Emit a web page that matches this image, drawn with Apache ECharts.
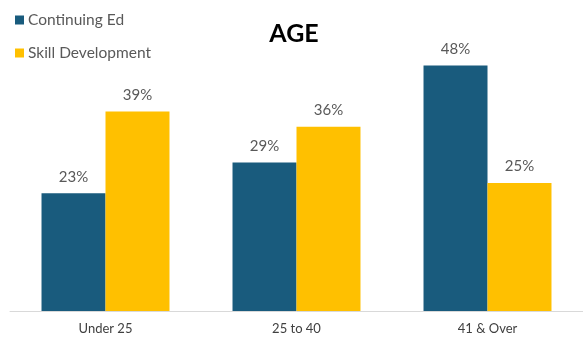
<!DOCTYPE html>
<html>
<head>
<meta charset="utf-8">
<script src="https://cdn.jsdelivr.net/npm/echarts@6/dist/echarts.min.js"></script>
<style>
  html, body { margin: 0; padding: 0; background: #ffffff; }
  #chart { width: 583px; height: 343px; }
</style>
</head>
<body>
<div id="chart"></div>
<script>
// Age groups and the share of each program type
const categories = ['Under 25', '25 to 40', '41 & Over'];
const continuingEd = [23, 29, 48];
const skillDevelopment = [39, 36, 25];
const seriesNames = ['Continuing Ed', 'Skill Development'];

const FONT = 'Lato, "Open Sans", sans-serif';
const labelStyle = {
  show: true,
  position: 'top',
  distance: 9,
  formatter: '{c}%',
  color: '#595959',
  fontSize: 15,
  fontFamily: FONT
};

const chart = echarts.init(document.getElementById('chart'), null, { renderer: 'canvas' });
chart.setOption({
  animation: false,
  backgroundColor: '#ffffff',
  title: {
    text: 'AGE',
    left: 289,
    textAlign: 'center',
    top: 16,
    textStyle: { fontFamily: FONT, fontWeight: 'bold', fontSize: 25, color: '#000000' }
  },
  legend: {
    orient: 'vertical',
    left: 10,
    top: 7,
    itemWidth: 9,
    itemHeight: 9,
    itemGap: 17,
    icon: 'rect',
    textStyle: { fontFamily: FONT, fontSize: 15.5, color: '#595959', padding: [0, 0, 0, -1] },
    data: seriesNames
  },
  grid: { left: 10, width: 582, top: 4, bottom: 32, containLabel: false },
  xAxis: {
    type: 'category',
    data: categories,
    axisLine: { lineStyle: { color: '#d9d9d9', width: 1 } },
    axisTick: { show: false },
    axisLabel: { color: '#404040', fontSize: 13, fontFamily: FONT, margin: 11 }
  },
  yAxis: {
    type: 'value',
    min: 0,
    max: 60,
    show: false,
    splitLine: { show: false }
  },
  series: [
    {
      name: seriesNames[0],
      type: 'bar',
      data: continuingEd,
      barGap: '0%',
      barCategoryGap: '33%',
      itemStyle: { color: '#195b7d' },
      label: labelStyle
    },
    {
      name: seriesNames[1],
      type: 'bar',
      data: skillDevelopment,
      barGap: '0%',
      barCategoryGap: '33%',
      itemStyle: { color: '#ffc000' },
      label: labelStyle
    }
  ]
});
</script>
</body>
</html>
